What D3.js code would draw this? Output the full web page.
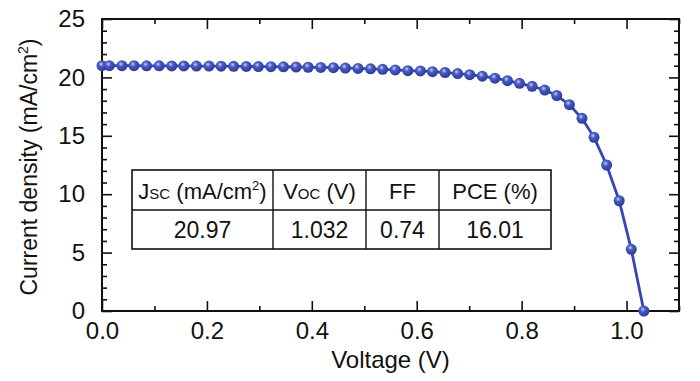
<!DOCTYPE html>
<html><head><meta charset="utf-8">
<script src="https://cdn.jsdelivr.net/npm/d3@7"></script>
<style>body{margin:0;background:#fff}svg{display:block;font-family:"Liberation Sans",Arial,sans-serif}</style>
</head><body><svg id="c" width="700" height="381"></svg>
<script>
const voltage = [0.000,0.014,0.038,0.061,0.085,0.109,0.133,0.156,0.180,0.204,0.227,0.251,0.275,0.298,0.322,0.346,0.370,0.393,0.417,0.441,0.464,0.488,0.512,0.535,0.559,0.583,0.607,0.630,0.654,0.678,0.701,0.725,0.749,0.773,0.796,0.820,0.844,0.867,0.891,0.915,0.938,0.962,0.986,1.009,1.033];
const current = [21.00,21.00,21.00,21.00,20.99,20.99,20.98,20.98,20.97,20.97,20.96,20.95,20.94,20.93,20.92,20.91,20.89,20.87,20.85,20.83,20.80,20.77,20.73,20.69,20.64,20.58,20.55,20.49,20.42,20.33,20.23,20.10,19.93,19.72,19.49,19.24,18.92,18.45,17.66,16.50,14.87,12.50,9.44,5.28,0.00];
const xTicks = [0.0,0.2,0.4,0.6,0.8,1.0];
const yTicks = [0,5,10,15,20,25];
const tableHeaders = ["Jsc","Voc","FF","PCE (%)"];
const tableValues = ["20.97","1.032","0.74","16.01"];

const svg = d3.select("#c");
const L=102,R=679,T=19,B=311;
const x = d3.scaleLinear().domain([0,1.1]).range([L,R]);
const y = d3.scaleLinear().domain([0,25]).range([B,T]);
const ink="#111";

const defs = svg.append("defs");
const g = defs.append("radialGradient").attr("id","ball").attr("cx","0.4").attr("cy","0.35").attr("r","0.65");
g.append("stop").attr("offset","0").attr("stop-color","#c8d0f5");
g.append("stop").attr("offset","0.35").attr("stop-color","#4a5cc4");
g.append("stop").attr("offset","1").attr("stop-color","#2a3a98");
defs.append("clipPath").attr("id","clip").append("rect").attr("x",L).attr("y",T).attr("width",R-L).attr("height",B-T);

const minorX = d3.range(0,1.101,0.1).filter(v=>Math.abs(v*10 % 2 -1)<0.01);
const minorY = d3.range(0,25.01,1).filter(v=>v%5!==0);
function ticks(axisGen, tr){ const a=svg.append("g").attr("transform",tr).call(axisGen); a.select(".domain").remove(); a.selectAll("line").attr("stroke",ink).attr("stroke-width",1.6); return a;}
ticks(d3.axisBottom(x).tickValues(xTicks).tickSize(-10).tickPadding(11).tickFormat(d3.format(".1f")),`translate(0,${B})`);
ticks(d3.axisBottom(x).tickValues(minorX).tickSize(-5).tickFormat(""),`translate(0,${B})`);
ticks(d3.axisTop(x).tickValues(xTicks).tickSize(-10).tickFormat(""),`translate(0,${T})`);
ticks(d3.axisTop(x).tickValues(minorX).tickSize(-5).tickFormat(""),`translate(0,${T})`);
ticks(d3.axisLeft(y).tickValues(yTicks).tickSize(-10).tickPadding(17),`translate(${L},0)`);
ticks(d3.axisLeft(y).tickValues(minorY).tickSize(-5).tickFormat(""),`translate(${L},0)`);
ticks(d3.axisRight(y).tickValues(yTicks).tickSize(-10).tickFormat(""),`translate(${R},0)`);
ticks(d3.axisRight(y).tickValues(minorY).tickSize(-5).tickFormat(""),`translate(${R},0)`);
svg.selectAll(".tick text").attr("font-size",24).attr("fill",ink).attr("font-family","Liberation Sans, Arial, sans-serif");

svg.append("rect").attr("x",L).attr("y",T).attr("width",R-L).attr("height",B-T).attr("fill","none").attr("stroke",ink).attr("stroke-width",2);

svg.append("text").attr("x",(L+R)/2).attr("y",368).attr("text-anchor","middle").attr("font-size",24).attr("fill",ink).text("Voltage (V)");
const yt = svg.append("text").attr("transform",`translate(37,167) rotate(-90)`).attr("text-anchor","middle").attr("font-size",23).attr("fill",ink);
yt.append("tspan").text("Current density (mA/cm");
yt.append("tspan").attr("font-size",14).attr("dy",-9).text("2");
yt.append("tspan").attr("dy",9).text(")");

const colX=[132,273,366,439,551], rowY=[170,210,249];
const tb = svg.append("g");
tb.append("rect").attr("x",colX[0]).attr("y",rowY[0]).attr("width",colX[4]-colX[0]).attr("height",rowY[2]-rowY[0]).attr("fill","#fff").attr("stroke",ink).attr("stroke-width",1.6);
tb.append("line").attr("x1",colX[0]).attr("x2",colX[4]).attr("y1",rowY[1]).attr("y2",rowY[1]).attr("stroke",ink).attr("stroke-width",1.4);
colX.slice(1,4).forEach(cx=>tb.append("line").attr("x1",cx).attr("x2",cx).attr("y1",rowY[0]).attr("y2",rowY[2]).attr("stroke",ink).attr("stroke-width",1.4));
tableHeaders.forEach((h,i)=>{
  const t = tb.append("text").attr("x",(colX[i]+colX[i+1])/2).attr("y",rowY[0]+29).attr("text-anchor","middle").attr("font-size",22).attr("fill",ink);
  if(i===0){ t.append("tspan").text("J"); t.append("tspan").attr("font-size",15).text("SC"); t.append("tspan").text(" (mA/cm"); t.append("tspan").attr("font-size",13).attr("dy",-9).text("2"); t.append("tspan").attr("dy",9).text(")"); }
  else if(i===1){ t.append("tspan").text("V"); t.append("tspan").attr("font-size",15).text("OC"); t.append("tspan").text(" (V)"); }
  else t.text(h);
});
tableValues.forEach((v,i)=>tb.append("text").attr("x",(colX[i]+colX[i+1])/2).attr("y",rowY[1]+28).attr("text-anchor","middle").attr("font-size",23).attr("fill",ink).text(v));

const pts = voltage.map((v,i)=>[v,current[i]]);
const plot = svg.append("g").attr("clip-path","url(#clip)");
plot.append("path").datum(pts).attr("fill","none").attr("stroke","#3446b4").attr("stroke-width",2.8)
  .attr("d",d3.line().x(d=>x(d[0])).y(d=>y(d[1])));
svg.append("g").selectAll("circle").data(pts).join("circle")
  .attr("cx",d=>x(d[0])).attr("cy",d=>y(d[1])).attr("r",5.5).attr("fill","url(#ball)");
</script></body></html>
